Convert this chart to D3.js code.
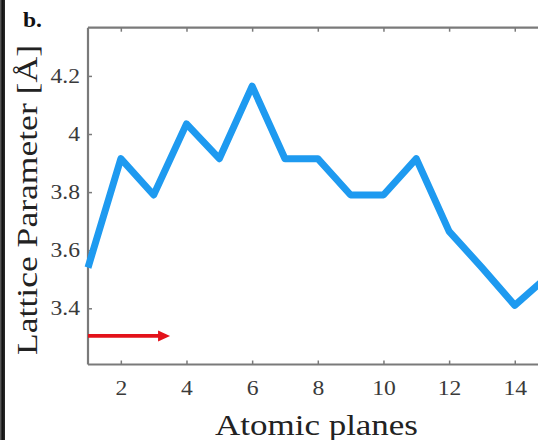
<!DOCTYPE html>
<html>
<head>
<meta charset="utf-8">
<script src="https://cdn.jsdelivr.net/npm/d3@7"></script>
<style>
  html, body { margin: 0; padding: 0; background: #fff; }
  svg { display: block; }
</style>
</head>
<body>
<svg id="chart" width="538" height="440"></svg>
<script>
// Lattice parameter per atomic plane
const planes = [1, 2, 3, 4, 5, 6, 7, 8, 9, 10, 11, 12, 13, 14, 15];
const latticeParam = [3.54, 3.915, 3.79, 4.035, 3.915, 4.165, 3.915, 3.915, 3.79, 3.79, 3.915, 3.665, 3.54, 3.41, 3.51];
const xTicks = [2, 4, 6, 8, 10, 12, 14];
const yTicks = [3.4, 3.6, 3.8, 4.0, 4.2];
const xDomain = [1, 15];
const yDomain = [3.2065, 4.366];
// arrow marking the growth direction, in plane units
const arrowFrom = [1, 3.305];
const arrowTo = [3.5, 3.305];

const svg = d3.select("#chart");
const W = 538, H = 440;
const plot = { left: 88, top: 27.7, right: 547.6, bottom: 364.5 };
const stretch = 1.18;

// dark strip on the left border
const grad = svg.append("defs").append("linearGradient").attr("id", "edge")
  .attr("x1", 0).attr("x2", 1).attr("y1", 0).attr("y2", 0);
grad.append("stop").attr("offset", "0%").attr("stop-color", "#6a6a6a");
grad.append("stop").attr("offset", "45%").attr("stop-color", "#111");
grad.append("stop").attr("offset", "100%").attr("stop-color", "#2a2a2a");
svg.append("rect").attr("x", 0).attr("y", 0).attr("width", 5).attr("height", H).attr("fill", "url(#edge)");

const x = d3.scaleLinear().domain(xDomain).range([plot.left, plot.right]);
const y = d3.scaleLinear().domain(yDomain).range([plot.bottom, plot.top]);

const axisColor = "#7a7a7a";
const tickTextColor = "#3a3a3a";

function styleAxis(g) {
  g.selectAll(".domain").remove();
  g.selectAll(".tick line").attr("stroke", axisColor).attr("stroke-width", 1.5);
  g.selectAll(".tick text")
    .attr("fill", tickTextColor)
    .style("font-family", "'Liberation Serif', 'Times New Roman', serif")
    .style("font-size", "20px")
    .each(function () {
      const w = this.getComputedTextLength();
      d3.select(this).attr("textLength", w * stretch).attr("lengthAdjust", "spacingAndGlyphs");
    });
}

// bottom axis
svg.append("g")
  .attr("transform", `translate(0,${plot.bottom})`)
  .call(d3.axisBottom(x).tickValues(xTicks).tickSize(-4).tickPadding(16).tickFormat(d3.format("d")))
  .call(styleAxis);

// top ticks, no labels
svg.append("g")
  .attr("transform", `translate(0,${plot.top})`)
  .call(d3.axisTop(x).tickValues(xTicks).tickSize(-4).tickFormat(""))
  .call(g => { g.selectAll(".domain").remove(); g.selectAll(".tick line").attr("stroke", axisColor).attr("stroke-width", 1.5); });

// left axis
svg.append("g")
  .attr("transform", `translate(${plot.left},0)`)
  .call(d3.axisLeft(y).tickValues(yTicks).tickSize(-4).tickPadding(8).tickFormat(d => d3.format("~g")(+d.toFixed(1))))
  .call(styleAxis);

// frame lines (left, top, bottom)
const frame = svg.append("g").attr("stroke", axisColor).attr("stroke-width", 2.2).attr("fill", "none");
frame.append("line").attr("x1", plot.left).attr("x2", plot.left).attr("y1", plot.top).attr("y2", plot.bottom);
frame.append("line").attr("x1", plot.left).attr("x2", plot.right).attr("y1", plot.top).attr("y2", plot.top);
frame.append("line").attr("x1", plot.left).attr("x2", plot.right).attr("y1", plot.bottom).attr("y2", plot.bottom);

// data line
const data = planes.map((p, i) => ({ p, v: latticeParam[i] }));
svg.append("path")
  .datum(data)
  .attr("fill", "none")
  .attr("stroke", "#1e9af0")
  .attr("stroke-width", 7)
  .attr("stroke-linejoin", "round")
  .attr("d", d3.line().x(d => x(d.p)).y(d => y(d.v)));

// red arrow
const ax0 = x(arrowFrom[0]), ay = y(arrowFrom[1]), ax1 = x(arrowTo[0]);
const headLen = 12, headHalf = 5.5;
svg.append("line")
  .attr("x1", ax0).attr("x2", ax1 - headLen + 1).attr("y1", ay).attr("y2", ay)
  .attr("stroke", "#e3121a").attr("stroke-width", 3.8);
svg.append("path")
  .attr("d", `M${ax1},${ay}L${ax1 - headLen},${ay - headHalf}L${ax1 - headLen},${ay + headHalf}Z`)
  .attr("fill", "#e3121a");

// axis titles
const serif = "'Liberation Serif', 'Times New Roman', serif";
svg.append("text")
  .attr("x", 316.5).attr("y", 435)
  .attr("text-anchor", "middle")
  .attr("fill", "#222")
  .style("font-family", serif).style("font-size", "30px")
  .attr("textLength", 203).attr("lengthAdjust", "spacingAndGlyphs")
  .text("Atomic planes");

svg.append("text")
  .attr("transform", "translate(37,200) rotate(-90)")
  .attr("text-anchor", "middle")
  .attr("fill", "#222")
  .style("font-family", serif).style("font-size", "30px")
  .attr("textLength", 310).attr("lengthAdjust", "spacingAndGlyphs")
  .text("Lattice Parameter [Å]");

// panel letter
svg.append("text")
  .attr("x", 23).attr("y", 27)
  .attr("fill", "#111")
  .style("font-family", serif).style("font-size", "22px").style("font-weight", "bold")
  .attr("textLength", 19).attr("lengthAdjust", "spacingAndGlyphs")
  .text("b.");
</script>
</body>
</html>
